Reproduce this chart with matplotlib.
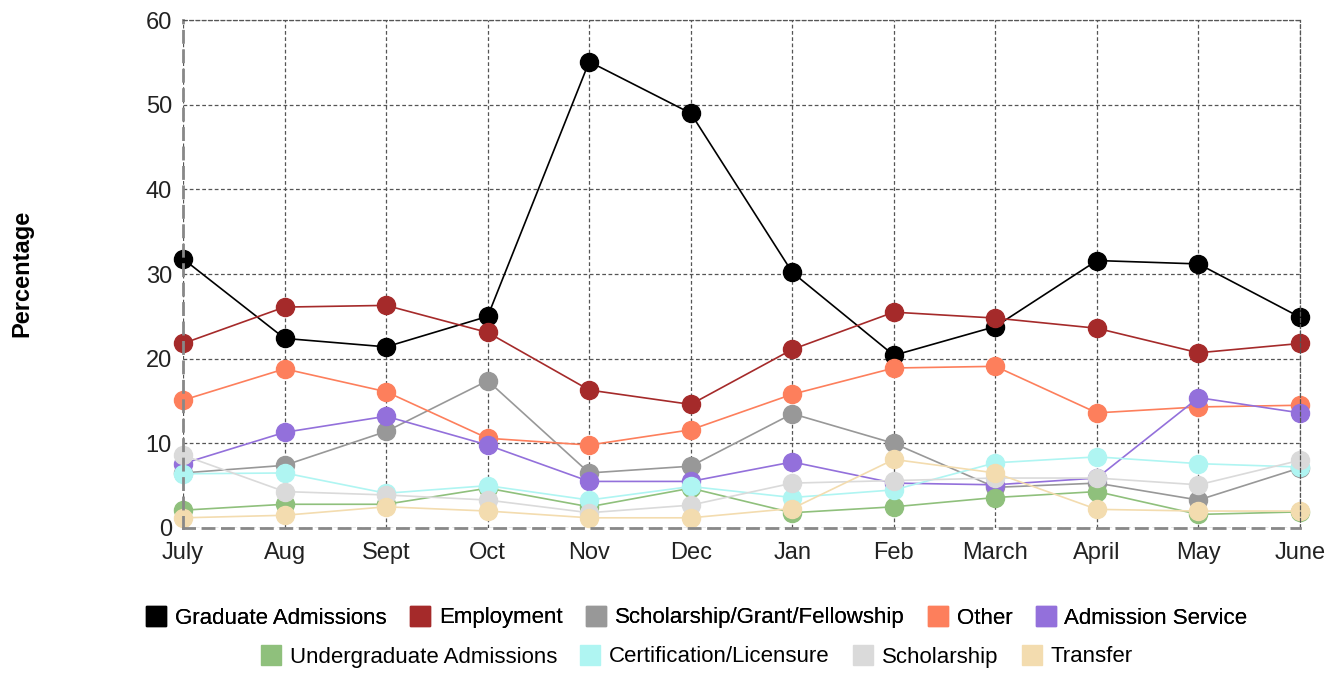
import matplotlib.pyplot as plt
from matplotlib.lines import Line2D

plt.rcParams['font.family'] = ['Liberation Sans', 'DejaVu Sans']

months = ['July', 'Aug', 'Sept', 'Oct', 'Nov', 'Dec', 'Jan', 'Feb', 'March', 'April', 'May', 'June']

graduate = [31.8, 22.4, 21.4, 25.0, 55.1, 49.0, 30.2, 20.4, 23.8, 31.6, 31.2, 24.9]
employment = [21.8, 26.1, 26.3, 23.1, 16.3, 14.6, 21.1, 25.5, 24.8, 23.6, 20.7, 21.8]
sgf = [6.5, 7.4, 11.4, 17.4, 6.5, 7.3, 13.5, 10.0, 4.8, 5.3, 3.3, 7.1]
other = [15.1, 18.8, 16.1, 10.6, 9.8, 11.6, 15.8, 18.9, 19.1, 13.6, 14.3, 14.5]
adm_service = [7.6, 11.3, 13.2, 9.8, 5.5, 5.5, 7.8, 5.3, 5.1, 5.9, 15.4, 13.6]
undergrad = [2.1, 2.8, 2.8, 4.7, 2.5, 4.7, 1.8, 2.5, 3.6, 4.3, 1.6, 1.9]
certification = [6.4, 6.5, 4.1, 5.0, 3.3, 4.9, 3.6, 4.5, 7.7, 8.4, 7.6, 7.2]
scholarship = [8.6, 4.3, 3.9, 3.3, 1.8, 2.7, 5.3, 5.6, 5.9, 5.9, 5.1, 8.0]
transfer = [1.2, 1.5, 2.5, 2.0, 1.2, 1.2, 2.3, 8.1, 6.5, 2.2, 2.0, 2.0]

names = ['Graduate Admissions', 'Employment', 'Scholarship/Grant/Fellowship', 'Other',
         'Admission Service', 'Undergraduate Admissions', 'Certification/Licensure',
         'Scholarship', 'Transfer']
series = [graduate, employment, sgf, other, adm_service, undergrad, certification,
          scholarship, transfer]
colors = ['#000000', '#a52a2a', '#989898', '#fd7f5c', '#9370db', '#8fc07c',
          '#aff5f2', '#dadada', '#f3dcaf']

fig = plt.figure(figsize=(13.39, 6.73), dpi=100)
ax = fig.add_axes([0.1367, 0.2155, 0.8342, 0.7545])

x = range(len(months))
for name, vals, c in zip(names, series, colors):
    ax.plot(x, vals, color=c, lw=1.2, marker='o', markersize=13, label=name, clip_on=False)

ax.set_xlim(0, len(months) - 1)
ax.set_ylim(0, 60)
ax.set_yticks(range(0, 61, 10))
ax.set_xticks(list(x))
ax.set_xticklabels(months)
ax.tick_params(length=0, labelsize=17, colors='#222222', pad=8)
ax.tick_params(axis='x', pad=10)

ax.grid(True, color='#555555', linestyle=(0, (3, 2)), linewidth=0.9)
for side in ['top', 'right']:
    ax.spines[side].set_color('#555555')
    ax.spines[side].set_linestyle((0, (3, 2)))
    ax.spines[side].set_linewidth(0.9)
for side in ['left', 'bottom']:
    ax.spines[side].set_color('#888888')
    ax.spines[side].set_linestyle((0, (4, 3)))
    ax.spines[side].set_linewidth(2)
ax.set_axisbelow(True)

fig.text(22 / 1339, 1 - 273 / 673, 'Percentage', rotation=90, fontsize=17,
         fontweight='bold', ha='center', va='center')

handles = [Line2D([], [], color=c, marker='s', linestyle='none', markersize=15) for c in colors]
common = dict(loc='center', frameon=False, fontsize=16, handletextpad=0.35,
              columnspacing=1.0, handlelength=1.0)
leg1 = fig.legend(handles[:5], names[:5], bbox_to_anchor=(0.52, 1 - 618 / 673),
                  ncol=5, **common)
leg2 = fig.legend(handles[5:], names[5:], bbox_to_anchor=(0.52, 1 - 657 / 673),
                  ncol=4, **common)
fig.add_artist(leg1)

fig.savefig('out.png', dpi=100)
